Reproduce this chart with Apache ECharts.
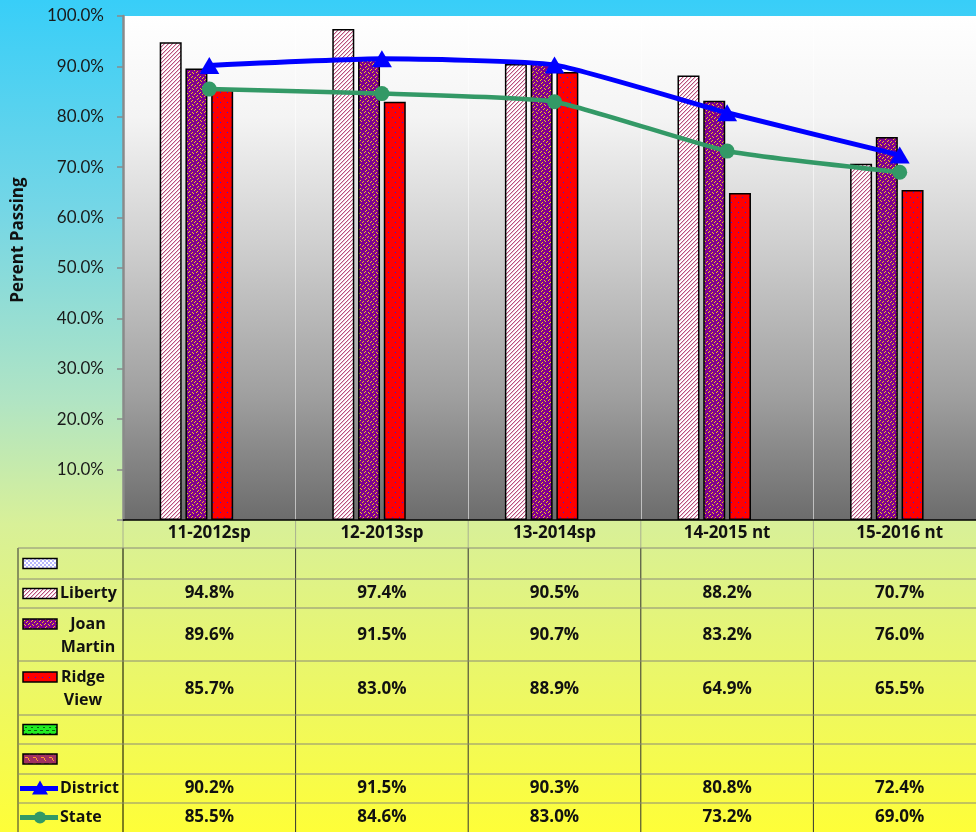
<!DOCTYPE html>
<html><head><meta charset="utf-8">
<script src="https://cdn.jsdelivr.net/npm/echarts@6/dist/echarts.min.js"></script>
<style>html,body{margin:0;padding:0;}#c{width:976px;height:832px;}</style>
</head><body><div id="c"></div>
<script>
const categories = ['11-2012sp', '12-2013sp', '13-2014sp', '14-2015 nt', '15-2016 nt'];
const liberty    = [94.8, 97.4, 90.5, 88.2, 70.7];
const joanMartin = [89.6, 91.5, 90.7, 83.2, 76.0];
const ridgeView  = [85.7, 83.0, 88.9, 64.9, 65.5];
const district   = [90.2, 91.5, 90.3, 80.8, 72.4];
const state      = [85.5, 84.6, 83.0, 73.2, 69.0];
const yMin = 0, yMax = 100, yStep = 10;

function makePattern(w, h, draw) {
  const c = document.createElement('canvas'); c.width = w; c.height = h;
  const g = c.getContext('2d'); draw(g, w, h);
  return { image: c, repeat: 'repeat' };
}
const patLiberty = makePattern(4, 4, (g) => {
  g.fillStyle = '#ffffff'; g.fillRect(0, 0, 4, 4);
  g.fillStyle = '#b8507c';
  for (let i = 0; i < 4; i++) g.fillRect(i, 3 - i, 1, 1);
  g.fillStyle = '#eac0d2';
  for (let i = 0; i < 4; i++) g.fillRect(i, (4 - i) % 4, 1, 1);
});
const patJoan = makePattern(8, 8, (g) => {
  g.fillStyle = '#800090'; g.fillRect(0, 0, 8, 8);
  g.fillStyle = '#f0c818';
  const pts = [[0,0],[1,1],[4,0],[5,7],[3,5],[2,6],[5,3],[6,2],[0,4],[7,5]];
  pts.forEach(p => g.fillRect(p[0], p[1], 1, 1));
});
const patRidge = makePattern(7, 10, (g) => {
  g.fillStyle = '#ff0000'; g.fillRect(0, 0, 7, 10);
  g.fillStyle = '#1a1aff';
  g.fillRect(3, 2, 1, 1); g.fillRect(0, 7, 1, 1);
});
const patBlue = makePattern(4, 4, (g) => {
  g.fillStyle = '#ffffff'; g.fillRect(0, 0, 4, 4);
  g.fillStyle = '#b8b8ff'; g.fillRect(0, 0, 2, 2); g.fillRect(2, 2, 2, 2);
});
const patGreen = makePattern(6, 6, (g) => {
  g.fillStyle = '#22ee22'; g.fillRect(0, 0, 6, 6);
  g.fillStyle = '#106010'; g.fillRect(1, 1, 2, 1); g.fillRect(4, 4, 2, 1); g.fillRect(0, 4, 1, 1);
});
const patBrown = makePattern(8, 6, (g) => {
  g.fillStyle = '#a03060'; g.fillRect(0, 0, 8, 6);
  g.fillStyle = '#ff9a30'; g.fillRect(1, 1, 3, 1); g.fillRect(4, 2, 1, 2); g.fillRect(5, 4, 1, 1);
});

const chart = echarts.init(document.getElementById('c'), null, { renderer: 'canvas' });
const FONT = 'Open Sans';
const FS = 17;
const barBase = { type: 'bar', barWidth: 22, barGap: '17%' };
const bs = (pat) => ({ color: pat, borderColor: '#000', borderWidth: 1.5 });

chart.setOption({
  animation: false,
  backgroundColor: new echarts.graphic.LinearGradient(0, 0, 0, 1, [
    { offset: 0, color: '#38cef8' }, { offset: 0.25, color: '#74d6e6' },
    { offset: 0.48, color: '#b0e4c4' }, { offset: 0.63, color: '#d8f098' },
    { offset: 1, color: '#fefe38' }]),
  grid: { left: 123, top: 16, right: -10, bottom: 312, containLabel: false, outerBoundsMode: 'none',
    show: true, borderWidth: 0,
    backgroundColor: new echarts.graphic.LinearGradient(0, 0, 0, 1, [
      { offset: 0, color: '#ffffff' }, { offset: 0.2, color: '#f4f4f4' },
      { offset: 0.45, color: '#d0d0d0' }, { offset: 0.75, color: '#a0a0a0' },
      { offset: 1, color: '#6c6c6c' }]) },
  xAxis: { type: 'category', data: categories,
    axisLine: { lineStyle: { color: '#000', width: 1.5 } }, axisTick: { show: false },
    axisLabel: { fontFamily: FONT, fontWeight: 'bold', fontSize: FS, color: '#111', margin: 5 },
    splitLine: { show: true, lineStyle: { color: 'rgba(255,255,255,0.55)', width: 1 } } },
  yAxis: { type: 'value', min: yMin, max: yMax, interval: yStep,
    axisLine: { show: true, lineStyle: { color: '#8a8a8a', width: 2.5 } },
    axisTick: { show: true, length: 6, lineStyle: { color: '#8a8a8a', width: 1.5 } },
    splitLine: { show: false },
    axisLabel: { fontFamily: 'Lato', fontSize: 17, color: '#1a1a1a', margin: 19,
      formatter: v => v === 0 ? '' : v.toFixed(1) + '%' } },
  series: [
    Object.assign({}, barBase, { name: 'blank1', data: categories.map(() => null), itemStyle: bs(patBlue) }),
    Object.assign({}, barBase, { name: 'Liberty', data: liberty, itemStyle: bs(patLiberty) }),
    Object.assign({}, barBase, { name: 'Joan Martin', data: joanMartin, itemStyle: bs(patJoan) }),
    Object.assign({}, barBase, { name: 'Ridge View', data: ridgeView, itemStyle: bs(patRidge) }),
    Object.assign({}, barBase, { name: 'blank2', data: categories.map(() => null), itemStyle: bs(patGreen) }),
    Object.assign({}, barBase, { name: 'blank3', data: categories.map(() => null), itemStyle: bs(patBrown) }),
    { type: 'line', name: 'District', data: district, smooth: 0.15, z: 10,
      symbol: 'triangle', symbolSize: [20, 17], color: '#0000ff',
      lineStyle: { width: 5, color: '#0000ff' }, itemStyle: { color: '#0000ff' } },
    { type: 'line', name: 'State', data: state, smooth: 0.15, z: 9,
      symbol: 'circle', symbolSize: 15, color: '#339966',
      lineStyle: { width: 4.5, color: '#339966' }, itemStyle: { color: '#339966' } }
  ]
});

// ---- data table below the chart ----
const xs = categories.map(c => chart.convertToPixel({ xAxisIndex: 0 }, c));
const band = xs[1] - xs[0];
const bounds = [xs[0] - band / 2].concat(xs.map(x => x + band / 2));
const rowEdges = [548, 579, 608, 661, 715, 744, 774, 803, 840];
const rows = [
  { key: patBlue, lines: [], values: null },
  { key: patLiberty, lines: ['Liberty'], values: liberty, align: 'left' },
  { key: patJoan, lines: ['Joan', 'Martin'], values: joanMartin, align: 'center', cx: 88 },
  { key: patRidge, lines: ['Ridge', 'View'], values: ridgeView, align: 'center', cx: 83 },
  { key: patGreen, lines: [], values: null },
  { key: patBrown, lines: [], values: null },
  { line: '#0000ff', marker: 'triangle', lines: ['District'], values: district, align: 'left' },
  { line: '#339966', marker: 'circle', lines: ['State'], values: state, align: 'left' }
];
const g = [];
const tStyle = { fontFamily: FONT, fontWeight: 'bold', fontSize: FS, fill: '#111' };
const lStyle = { fontFamily: FONT, fontWeight: 'bold', fontSize: 16, fill: '#111' };
g.push({ type: 'line', shape: { x1: 18, y1: 548, x2: 18, y2: 832 }, style: { stroke: '#333', lineWidth: 1 } });
bounds.forEach((b, i) => {
  g.push({ type: 'line', shape: { x1: b, y1: 521, x2: b, y2: 548 }, style: { stroke: '#a8b090', lineWidth: 1 } });
  g.push({ type: 'line', shape: { x1: b, y1: 548, x2: b, y2: 832 }, style: { stroke: i === 0 ? '#000' : '#333', lineWidth: 1 } });
});
rowEdges.slice(0, 8).forEach(y => {
  g.push({ type: 'line', shape: { x1: 18, y1: y, x2: 976, y2: y }, style: { stroke: '#8a8a78', lineWidth: 1 } });
});
rows.forEach((r, i) => {
  const top = rowEdges[i], bot = Math.min(rowEdges[i + 1], 832);
  const cy = r.lines.length === 2 ? top + 16 : (top + bot) / 2;
  const vy = (top + rowEdges[i + 1] - (i === 7 ? 8 : 0)) / 2;
  if (r.key) {
    g.push({ type: 'rect', shape: { x: 23, y: cy - 5, width: 34, height: 10 },
      style: { fill: r.key, stroke: '#000', lineWidth: 1.5 } });
  } else {
    g.push({ type: 'line', shape: { x1: 20, y1: cy, x2: 58, y2: cy }, style: { stroke: r.line, lineWidth: 5 } });
    if (r.marker === 'triangle') {
      g.push({ type: 'polygon', shape: { points: [[40, cy - 8], [48, cy + 6], [32, cy + 6]] }, style: { fill: r.line } });
    } else {
      g.push({ type: 'circle', shape: { cx: 40, cy: cy, r: 6 }, style: { fill: r.line } });
    }
  }
  r.lines.forEach((t, k) => {
    g.push({ type: 'text', x: r.align === 'left' ? 60 : r.cx, y: cy + k * 23,
      style: Object.assign({ text: t, align: r.align, verticalAlign: 'middle' }, lStyle) });
  });
  if (r.values) {
    r.values.forEach((v, j) => {
      g.push({ type: 'text', x: xs[j], y: r.lines.length === 2 ? (top + rowEdges[i + 1]) / 2 + 1 : vy,
        style: Object.assign({ text: v.toFixed(1) + '%', align: 'center', verticalAlign: 'middle' }, tStyle) });
    });
  }
});
g.push({ type: 'text', x: 18, y: 240, rotation: Math.PI / 2,
  style: { text: 'Perent Passing', fontFamily: FONT, fontWeight: 'bold', fontSize: 17, fill: '#111', align: 'center', verticalAlign: 'middle' } });
chart.setOption({ graphic: { elements: g } });
</script>
</body></html>
